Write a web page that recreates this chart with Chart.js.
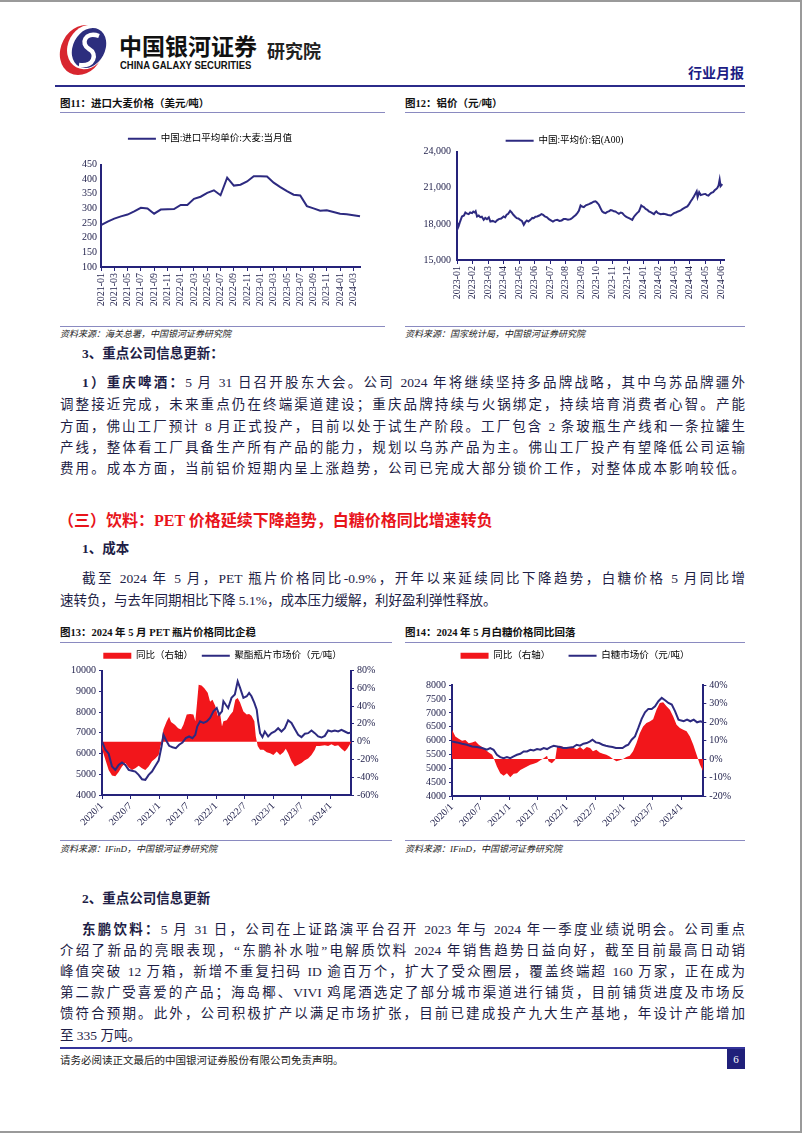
<!DOCTYPE html>
<html>
<head>
<meta charset="utf-8">
<script src="https://cdn.jsdelivr.net/npm/chart.js@4.4.1/dist/chart.umd.min.js"></script>
<style>
  html, body { margin: 0; padding: 0; background: #fff; }
  #page { position: relative; width: 802px; height: 1133px; overflow: hidden; background: #fff;
    font-family: "Liberation Serif", "Noto Sans CJK SC", serif; color: #1e1e46; }
  .t { position: absolute; white-space: nowrap; line-height: 20px; }
  .jl { position: absolute; line-height: 20px; font-size: 13.5px; text-align: justify; text-align-last: justify; }
  .b { font-weight: bold; }
  .cap { position: absolute; font-size: 10.5px; font-weight: bold; line-height: 16px; white-space: nowrap; color: #111; }
  .src { position: absolute; font-size: 9px; font-style: italic; line-height: 14px; white-space: nowrap; color: #222; }
  .rule { position: absolute; height: 1px; background: #8a8ac0; }
  canvas { position: absolute; }
</style>
</head>
<body>
<div id="page">
  <!-- page frame -->
  <div style="position:absolute;left:0;top:0;width:802px;height:2px;background:#9a9a9a"></div>
  <div style="position:absolute;left:800px;top:0;width:2px;height:1133px;background:#9a9a9a"></div>
  <div style="position:absolute;left:0;top:1131px;width:802px;height:2px;background:#9a9a9a"></div>

  <!-- header -->
  <svg style="position:absolute;left:52px;top:24px" width="64" height="52" viewBox="0 0 64 52">
    <ellipse cx="30" cy="26" rx="21" ry="26" transform="rotate(28 30 26)" fill="#d8262f"/>
    <ellipse cx="35" cy="23" rx="19" ry="23" transform="rotate(28 35 23)" fill="#fff"/>
    <ellipse cx="37" cy="24" rx="16" ry="21" transform="rotate(28 37 24)" fill="#2c2e7e"/>
    <path d="M47 12 C33 7, 28 20, 37 25 C46 30, 42 43, 27 41" stroke="#fff" stroke-width="4.5" fill="none"/>
  </svg>
  <div class="t b" style="left:119px;top:32px;font-size:23px;line-height:26px;font-family:'Noto Sans CJK SC';color:#111">中国银河证券</div>
  <div class="t b" style="left:120px;top:60px;font-size:10px;line-height:12px;font-family:'Liberation Sans';color:#111;transform:scaleX(0.95);transform-origin:left">CHINA GALAXY SECURITIES</div>
  <div class="t" style="left:267px;top:39px;font-size:18px;line-height:22px;font-family:'Noto Sans CJK SC';font-weight:bold;color:#222">研究院</div>
  <div class="t b" style="left:688px;top:62px;font-size:14px;font-family:'Noto Sans CJK SC';color:#1c1c84">行业月报</div>
  <div style="position:absolute;left:55px;top:85px;width:690px;height:2px;background:#2b2b8a"></div>

  <!-- figures 11 / 12 -->
  <div class="cap" style="left:60px;top:96px">图11：进口大麦价格（美元/吨）</div>
  <div class="rule" style="left:60px;top:112px;width:325px"></div>
  <div class="cap" style="left:405px;top:96px">图12：铝价（元/吨）</div>
  <div class="rule" style="left:405px;top:112px;width:340px"></div>
  <canvas id="c11" width="325" height="200" style="left:60px;top:118px"></canvas>
  <canvas id="c12" width="340" height="200" style="left:405px;top:118px"></canvas>
  <div class="rule" style="left:60px;top:326px;width:325px"></div>
  <div class="src" style="left:60px;top:327px">资料来源：海关总署，中国银河证券研究院</div>
  <div class="rule" style="left:405px;top:326px;width:340px"></div>
  <div class="src" style="left:405px;top:327px">资料来源：国家统计局，中国银河证券研究院</div>

  <!-- section 3 -->
  <div class="t b" style="left:82px;top:344px;font-size:13.5px">3、重点公司信息更新：</div>
  <div class="jl" style="left:82px;top:373px;width:663px"><span class="b">1）重庆啤酒：</span>5 月 31 日召开股东大会。公司 2024 年将继续坚持多品牌战略，其中乌苏品牌疆外</div>
  <div class="jl" style="left:60px;top:395px;width:685px">调整接近完成，未来重点仍在终端渠道建设；重庆品牌持续与火锅绑定，持续培育消费者心智。产能</div>
  <div class="jl" style="left:60px;top:417px;width:685px">方面，佛山工厂预计 8 月正式投产，目前以处于试生产阶段。工厂包含 2 条玻瓶生产线和一条拉罐生</div>
  <div class="jl" style="left:60px;top:438px;width:685px">产线，整体看工厂具备生产所有产品的能力，规划以乌苏产品为主。佛山工厂投产有望降低公司运输</div>
  <div class="jl" style="left:60px;top:459px;width:685px">费用。成本方面，当前铝价短期内呈上涨趋势，公司已完成大部分锁价工作，对整体成本影响较低。</div>

  <!-- section (三) -->
  <div class="t b" style="left:58px;top:510px;font-size:16px;line-height:22px;color:#e8141b">（三）饮料：PET 价格延续下降趋势，白糖价格同比增速转负</div>
  <div class="t b" style="left:82px;top:539px;font-size:13.5px">1、成本</div>
  <div class="jl" style="left:82px;top:569px;width:663px">截至 2024 年 5 月，PET 瓶片价格同比-0.9%，开年以来延续同比下降趋势，白糖价格 5 月同比增</div>
  <div class="t" style="left:60px;top:591px;font-size:13.5px">速转负，与去年同期相比下降 5.1%，成本压力缓解，利好盈利弹性释放。</div>

  <!-- figures 13 / 14 -->
  <div class="cap" style="left:60px;top:625px">图13：2024 年 5 月 PET 瓶片价格同比企稳</div>
  <div class="rule" style="left:60px;top:642px;width:332px"></div>
  <div class="cap" style="left:405px;top:625px">图14：2024 年 5 月白糖价格同比回落</div>
  <div class="rule" style="left:405px;top:642px;width:340px"></div>
  <canvas id="c13" width="325" height="190" style="left:60px;top:645px"></canvas>
  <canvas id="c14" width="340" height="190" style="left:405px;top:645px"></canvas>
  <div class="rule" style="left:60px;top:840px;width:332px"></div>
  <div class="src" style="left:60px;top:842px">资料来源：IFinD，中国银河证券研究院</div>
  <div class="rule" style="left:405px;top:840px;width:340px"></div>
  <div class="src" style="left:405px;top:842px">资料来源：IFinD，中国银河证券研究院</div>

  <!-- section 2 -->
  <div class="t b" style="left:82px;top:889px;font-size:13.5px">2、重点公司信息更新</div>
  <div class="jl" style="left:82px;top:920px;width:663px"><span class="b">东鹏饮料：</span>5 月 31 日，公司在上证路演平台召开 2023 年与 2024 年一季度业绩说明会。公司重点</div>
  <div class="jl" style="left:60px;top:941px;width:685px">介绍了新品的亮眼表现，“东鹏补水啦”电解质饮料 2024 年销售趋势日益向好，截至目前最高日动销</div>
  <div class="jl" style="left:60px;top:962px;width:685px">峰值突破 12 万箱，新增不重复扫码 ID 逾百万个，扩大了受众圈层，覆盖终端超 160 万家，正在成为</div>
  <div class="jl" style="left:60px;top:983px;width:685px">第二款广受喜爱的产品；海岛椰、VIVI 鸡尾酒选定了部分城市渠道进行铺货，目前铺货进度及市场反</div>
  <div class="jl" style="left:60px;top:1004px;width:685px">馈符合预期。此外，公司积极扩产以满足市场扩张，目前已建成投产九大生产基地，年设计产能增加</div>
  <div class="t" style="left:60px;top:1026px;font-size:13.5px">至 335 万吨。</div>

  <!-- footer -->
  <div style="position:absolute;left:60px;top:1047px;width:685px;height:2px;background:#34349a"></div>
  <div class="t" style="left:60px;top:1051px;font-size:10.5px;color:#222">请务必阅读正文最后的中国银河证券股份有限公司免责声明。</div>
  <div style="position:absolute;left:727px;top:1049px;width:18px;height:20px;background:#20207a;color:#fff;font-size:11px;line-height:20px;text-align:center">6</div>
</div>

<script>
// 图11 进口大麦价格（美元/吨），月度
const barleyMonths = ['2021-01','2021-02','2021-03','2021-04','2021-05','2021-06','2021-07','2021-08','2021-09','2021-10','2021-11','2021-12',
  '2022-01','2022-02','2022-03','2022-04','2022-05','2022-06','2022-07','2022-08','2022-09','2022-10','2022-11','2022-12',
  '2023-01','2023-02','2023-03','2023-04','2023-05','2023-06','2023-07','2023-08','2023-09','2023-10','2023-11','2023-12',
  '2024-01','2024-02','2024-03','2024-04'];
const barleyPrice = [243, 255, 265, 273, 279, 290, 302, 300, 282, 296, 297, 298,
  312, 312, 333, 340, 353, 362, 345, 405, 378, 381, 392, 410,
  410, 409, 388, 373, 359, 347, 344, 308, 300, 292, 294, 288,
  282, 280, 277, 273];

// 图12 铝价（元/吨），横轴为距 2023-01 的月数
const alMonthLabels = ['2023-01','2023-02','2023-03','2023-04','2023-05','2023-06','2023-07','2023-08','2023-09',
  '2023-10','2023-11','2023-12','2024-01','2024-02','2024-03','2024-04','2024-05','2024-06'];
const alT = [0, 0.05, 0.1, 0.2, 0.32, 0.45, 0.54, 0.65, 0.75, 0.85, 0.97, 1.05, 1.14, 1.2, 1.29, 1.4, 1.5, 1.6, 1.72, 1.82,
  1.93, 2.05, 2.15, 2.3, 2.47, 2.58, 2.69, 2.85, 3.0, 3.1, 3.2, 3.3, 3.42, 3.52, 3.63, 3.75, 3.85, 3.95, 4.07, 4.18,
  4.3, 4.4, 4.5, 4.6, 4.73, 4.85, 4.94, 5.05, 5.16, 5.3, 5.44, 5.55, 5.66, 5.8, 5.92, 6.05, 6.18, 6.3, 6.46, 6.6,
  6.74, 6.87, 7.0, 7.15, 7.32, 7.42, 7.53, 7.65, 7.75, 7.85, 7.96, 8.05, 8.17, 8.3, 8.5, 8.65, 8.8, 8.92, 9.0, 9.14,
  9.25, 9.35, 9.45, 9.57, 9.68, 9.78, 9.9, 10.0, 10.1, 10.2, 10.3, 10.43, 10.55, 10.65, 10.75, 10.86, 10.97, 11.08, 11.2, 11.29,
  11.4, 11.5, 11.6, 11.72, 11.8, 11.87, 11.95, 12.04, 12.15, 12.26, 12.36, 12.47, 12.58, 12.69, 12.77, 12.84, 12.95, 13.12, 13.3, 13.45,
  13.6, 13.77, 13.88, 13.98, 14.1, 14.24, 14.38, 14.52, 14.68, 14.84, 14.95, 15.05, 15.15, 15.26, 15.35, 15.44, 15.5, 15.6, 15.7, 15.8,
  15.9, 16.0, 16.1, 16.2, 16.3, 16.38, 16.5, 16.6, 16.7, 16.77, 16.85, 16.92, 16.98, 17.05, 17.1];
const alPrice = [18100, 17650, 17800, 18200, 18620, 18700, 18950, 18850, 18810, 18950, 18900, 19030, 18950, 19050, 18620, 18700, 18560, 18600, 18340, 18500,
  18400, 18550, 18200, 18250, 18150, 18300, 18400, 18450, 18620, 18550, 18760, 18850, 19090, 18950, 18760, 18600, 18480, 18450, 18340, 18250,
  17930, 18150, 18290, 18200, 18340, 18500, 18480, 18600, 18620, 18700, 18810, 18750, 18620, 18550, 18400, 18300, 18200, 18300, 18340, 18250,
  18290, 18400, 18400, 18350, 18400, 18500, 18620, 18750, 18900, 19100, 19540, 19450, 19400, 19550, 19650, 19740, 19850, 19880, 19800, 19600,
  19300, 19040, 18950, 18900, 19000, 19040, 19150, 19120, 19050, 19040, 18950, 18840, 18950, 18900, 18750, 18620, 18550, 18480, 18400, 18340,
  18600, 18760, 18900, 19040, 19300, 19540, 19450, 19400, 19250, 19180, 19050, 18980, 18900, 18810, 18950, 19040, 18900, 18810, 18850, 18810,
  18750, 18700, 18800, 18900, 18950, 19040, 19100, 19230, 19350, 19460, 19650, 19870, 20050, 20290, 20500, 20710, 20240, 20630, 20400, 20440,
  20480, 20490, 20400, 20350, 20500, 20580, 20650, 20800, 20900, 21000, 21200, 21680, 21140, 21250, 21200];

// 图13 / 图14 横轴：距 2020-01 的月数，每 6 个月一个刻度
const halfYearLabels = ['2020/1', '2020/7', '2021/1', '2021/7', '2022/1', '2022/7', '2023/1', '2023/7', '2024/1'];

// 图13 PET：聚酯瓶片市场价（元/吨）与同比（%）
const petT = [0, 0.7, 1.4, 2.1, 2.8, 3.5, 4.2, 4.9, 5.6, 6.3, 7.0, 7.7, 8.4, 9.1, 9.8, 10.5, 11.2, 11.9, 12.5, 12.9,
  13.4, 14.1, 14.8, 15.5, 16.2, 16.9, 17.6, 18.3, 19.0, 19.6, 20.0, 20.6, 21.3, 22.0, 22.7, 23.4, 24.1, 24.6, 25.2, 25.5,
  26.0, 26.5, 27.2, 27.9, 28.5, 29.0, 29.7, 30.4, 30.9, 31.4, 32.0, 32.5, 32.8, 33.2, 33.7, 34.2, 34.9, 35.6, 36.3, 37.0,
  37.7, 38.4, 39.1, 39.8, 40.5, 41.2, 41.9, 42.6, 43.3, 44.0, 44.7, 45.4, 46.1, 46.8, 47.5, 48.2, 48.9, 49.6, 50.3, 51.0,
  51.7, 52.3];
const petPrice = [6580, 6180, 5990, 5370, 5210, 5450, 5570, 5450, 5210, 5170, 5130, 4970, 4760, 4730, 4970, 5130, 5400, 5660, 6340, 6900,
  6660, 6370, 6300, 6260, 6420, 6530, 6740, 6820, 6740, 6900, 7300, 7550, 7470, 7550, 7710, 8030, 8190, 7870, 8030, 8520,
  8350, 8190, 8680, 8840, 9480, 9160, 8680, 8760, 8920, 8760, 8440, 8110, 7550, 6980, 6790, 7060, 6820, 6980, 7060, 7220,
  7060, 7220, 7600, 7470, 7180, 6900, 6790, 6950, 6980, 7110, 6980, 6820, 6770, 6850, 7110, 7060, 7110, 7060, 7140, 7060,
  6980, 7010];
const petYoyT = [0, 0.7, 1.4, 2.1, 2.8, 3.5, 4.2, 4.9, 5.6, 6.3, 7.0, 7.7, 8.4, 9.1, 9.8, 10.5, 11.2, 11.9, 12.3, 12.5,
  12.9, 13.6, 14.1, 14.5, 15.3, 16.0, 16.6, 17.1, 17.8, 18.5, 19.2, 19.6, 19.9, 20.3, 20.9, 21.5, 22.2, 22.7, 23.2, 23.8,
  24.3, 24.8, 25.2, 25.5, 26.2, 26.9, 27.5, 28.0, 28.5, 29.0, 29.7, 30.4, 30.9, 31.4, 32.0, 32.3, 32.7, 33.2, 33.9, 34.6,
  35.3, 36.0, 36.7, 37.4, 38.1, 38.6, 39.1, 39.8, 40.5, 41.2, 41.9, 42.6, 43.3, 44.0, 44.7, 45.0, 45.7, 46.8, 47.5, 48.2,
  48.9, 49.6, 50.3, 51.0, 51.5, 52.3];
const petYoy = [-8, -20, -32, -38, -39, -34, -28, -24, -29, -32, -30, -27, -30, -32, -28, -22, -19, -15, -5, 0,
  13.6, 23, 28, 22, 19, 15, 13.6, 19, 30.5, 31, 30.5, 23, 40, 64, 63, 60, 55, 45, 47, 40,
  29, 32, 17, 23, 24, 30, 34, 47, 49, 44, 34, 30.5, 31, 29, 23, 6, -5, -9, -9, -12,
  -13, -15, -11, -15, -12, -8, -13, -22, -28, -26, -24, -21, -19, -15, -9, -5, -5, -4, -5, -3,
  -5, -4, -8, -11, -8, -1];

// 图14 白糖：市场价（元/吨）与同比（%）
const sugarT = [0, 1.0, 2.1, 3.1, 4.2, 5.2, 6.3, 7.3, 8.0, 8.7, 9.4, 10.1, 10.8, 11.5, 12.2, 12.9, 13.6, 14.3, 15.0, 15.7,
  16.4, 17.1, 17.8, 18.5, 19.2, 19.9, 20.6, 21.3, 22.0, 22.6, 23.3, 24.0, 24.7, 25.4, 26.1, 26.8, 27.5, 28.2, 28.9, 29.4,
  30.1, 30.8, 31.5, 32.2, 32.9, 33.6, 34.3, 35.0, 35.7, 36.4, 36.9, 37.6, 38.3, 39.0, 39.7, 40.4, 41.1, 41.8, 42.5, 43.2,
  43.9, 44.6, 45.3, 46.0, 46.7, 47.4, 47.8, 48.5, 49.2, 49.9, 50.6, 51.3, 52.0, 52.6];
const sugarPrice = [5971, 5935, 5888, 5851, 5790, 5766, 5731, 5670, 5731, 5670, 5489, 5404, 5368, 5404, 5368, 5428, 5489, 5525, 5610, 5610,
  5670, 5646, 5694, 5670, 5731, 5694, 5766, 5815, 5790, 5766, 5731, 5731, 5755, 5766, 5851, 5815, 5888, 5912, 5971, 6032,
  5935, 5912, 5851, 5815, 5790, 5766, 5731, 5731, 5731, 5815, 5851, 6032, 6153, 6456, 6783, 7022, 7144, 7144, 7240, 7421,
  7542, 7457, 7360, 7300, 7058, 6758, 6735, 6698, 6758, 6698, 6758, 6661, 6698, 6661];
const sugarYoyT = [0, 0.7, 1.4, 2.1, 2.8, 3.5, 4.2, 4.9, 5.6, 6.3, 7.0, 7.7, 8.4, 8.8, 9.4, 10.1, 10.8, 11.5, 12.2, 12.9,
  13.6, 14.3, 15.0, 15.7, 16.4, 17.1, 17.8, 18.5, 19.2, 19.9, 20.2, 20.9, 21.6, 22.0, 22.6, 23.3, 24.0, 24.7, 25.4, 26.1,
  26.8, 27.5, 28.2, 28.9, 29.5, 30.2, 30.9, 31.6, 32.3, 33.0, 33.7, 34.4, 35.1, 35.8, 36.5, 37.2, 37.9, 38.6, 39.3, 40.0,
  40.7, 41.4, 42.1, 42.8, 43.5, 44.2, 44.9, 45.6, 46.3, 47.0, 47.7, 48.4, 49.1, 49.8, 50.5, 51.2, 51.9, 52.6];
const sugarYoy = [15.9, 12.2, 11, 9.9, 10.3, 8.6, 9, 9.6, 7.8, 6.5, 5, 3.6, 2.3, 0, -4, -7.7, -9, -7.7, -9.9, -8,
  -7.7, -5.9, -5, -4, -3.1, -2.5, -1.8, -0.7, 0.5, 1.8, -1.2, -2.2, -0.4, 6.8, 7.2, 6.5, 6, 6.5, 6, 5.3,
  6.5, 5, 6.5, 6, 4.2, 5, 3.6, 2.9, 2.3, 1.4, 0, -1.2, -0.7, 0, 1.1, 1.8, 4.2, 8.6, 14, 17.7,
  19.5, 20.4, 21.6, 26.7, 30.4, 30.8, 28.6, 26.7, 23.1, 18.6, 16.8, 15.9, 15, 12.2, 7.8, 2.3, -3.1, -6.7];

const NAVY = '#2d2a80';
const AXIS = '#25237a';
const TICK = '#24244e';
const RED = '#f2161b';

Chart.defaults.font.family = "'Liberation Serif', 'Noto Sans CJK SC', serif";
Chart.defaults.font.size = 10;
Chart.defaults.color = TICK;

const pairs = (xs, ys) => xs.map((x, i) => ({ x: x, y: ys[i] }));

// 图例下方留白（可为负）
function legendGap(px) {
  return {
    id: 'legendGap',
    beforeInit(chart) {
      const fit = chart.legend.fit;
      chart.legend.fit = function () { fit.call(this); this.height += px; };
    }
  };
}

function legendOpts(padding, items) {
  return {
    display: true,
    labels: {
      usePointStyle: true,
      pointStyleWidth: 28,
      boxHeight: 6,
      padding: padding,
      color: '#333',
      font: { size: 9.5 },
      generateLabels: () => items.map(it => ({
        text: it.text, fillStyle: it.color, strokeStyle: it.color,
        lineWidth: it.line ? 2 : 0, pointStyle: it.line ? 'line' : 'rect', hidden: false
      }))
    }
  };
}

function axisBorder() { return { color: AXIS, width: 2 }; }

// 图11
new Chart(document.getElementById('c11'), {
  type: 'line',
  data: {
    labels: barleyMonths,
    datasets: [{ label: '中国:进口平均单价:大麦:当月值', data: barleyPrice, borderColor: NAVY, borderWidth: 2, pointRadius: 0, tension: 0 }]
  },
  options: {
    responsive: false, animation: false,
    layout: { padding: { top: 6, right: 25, left: 0, bottom: 0 } },
    plugins: { legend: legendOpts(10, [{ text: '中国:进口平均单价:大麦:当月值', color: NAVY, line: true }]), tooltip: { enabled: false } },
    scales: {
      x: {
        border: axisBorder(),
        grid: { drawOnChartArea: false, tickLength: 4, color: c => (c.index % 2 ? 'rgba(0,0,0,0)' : AXIS) },
        ticks: { autoSkip: false, minRotation: 90, maxRotation: 90, padding: 2, callback: (v, i) => (i % 2 ? '' : barleyMonths[i]) },
        afterFit: s => { s.height = 51; }
      },
      y: {
        min: 100, max: 450,
        border: axisBorder(),
        grid: { display: false, drawTicks: false },
        ticks: { stepSize: 50, autoSkip: false, padding: 4 },
        afterFit: s => { s.width = 41; }
      }
    }
  },
  plugins: [legendGap(11)]
});

// 图12
new Chart(document.getElementById('c12'), {
  type: 'line',
  data: {
    datasets: [{ label: '中国:平均价:铝(A00)', data: pairs(alT, alPrice), borderColor: NAVY, borderWidth: 2, pointRadius: 0, tension: 0 }]
  },
  options: {
    responsive: false, animation: false,
    layout: { padding: { top: 8, right: 21, left: 0, bottom: 0 } },
    plugins: { legend: legendOpts(10, [{ text: '中国:平均价:铝(A00)', color: NAVY, line: true }]), tooltip: { enabled: false } },
    scales: {
      x: {
        type: 'linear', min: 0, max: 17.2,
        border: axisBorder(),
        grid: { drawOnChartArea: false, tickLength: 4, color: AXIS },
        ticks: { stepSize: 1, includeBounds: false, autoSkip: false, maxTicksLimit: 100, minRotation: 90, maxRotation: 90, padding: 2,
          callback: v => alMonthLabels[v] || '' },
        afterFit: s => { s.height = 58; }
      },
      y: {
        min: 15000, max: 24000,
        border: axisBorder(),
        grid: { display: false, drawTicks: false },
        ticks: { stepSize: 3000, autoSkip: false, padding: 6, callback: v => v.toLocaleString('en-US') },
        afterFit: s => { s.width = 52; }
      }
    }
  },
  plugins: [legendGap(-3.7)]
});

function dualChart(id, o) {
  new Chart(document.getElementById(id), {
    type: 'line',
    data: {
      datasets: [
        { label: o.lineName, data: pairs(o.priceT, o.price), borderColor: NAVY, borderWidth: 2, pointRadius: 0, tension: 0, yAxisID: 'y' },
        { label: '同比（右轴）', data: pairs(o.yoyT, o.yoy), borderWidth: 0, backgroundColor: RED, fill: 'origin', pointRadius: 0, tension: 0, yAxisID: 'y1' }
      ]
    },
    options: {
      responsive: false, animation: false,
      layout: { padding: { top: 2, right: 0, left: 0, bottom: 0 } },
      plugins: {
        legend: legendOpts(4, [{ text: '同比（右轴）' + o.legendSpace, color: RED, line: false }, { text: o.lineName, color: NAVY, line: true }]),
        tooltip: { enabled: false }
      },
      scales: {
        x: {
          type: 'linear', min: 0, max: o.xMax,
          border: axisBorder(),
          grid: { drawOnChartArea: false, tickLength: 4, color: AXIS },
          ticks: { stepSize: 6, includeBounds: false, autoSkip: false, maxTicksLimit: 100, minRotation: 45, maxRotation: 45, padding: 1,
            callback: v => halfYearLabels[v / 6] || '' },
          afterFit: s => { s.height = o.xH; }
        },
        y: {
          position: 'left', min: o.yMin, max: o.yMax,
          border: axisBorder(),
          grid: { drawOnChartArea: false, tickLength: 3, color: AXIS },
          ticks: { stepSize: o.yStep, autoSkip: false, padding: 3, callback: v => String(v) },
          afterFit: s => { s.width = o.yW; }
        },
        y1: {
          position: 'right', min: o.rMin, max: o.rMax,
          border: axisBorder(),
          grid: { drawOnChartArea: false, tickLength: 3, color: AXIS },
          ticks: { stepSize: o.rStep, autoSkip: false, padding: 3, callback: v => v + '%' },
          afterFit: s => { s.width = o.rW; }
        }
      }
    },
    plugins: [legendGap(o.gap)]
  });
}

// 图13
dualChart('c13', {
  lineName: '聚酯瓶片市场价（元/吨）', legendSpace: '\u3000', priceT: petT, price: petPrice, yoyT: petYoyT, yoy: petYoy,
  xMax: 52.3, xH: 40, yMin: 4000, yMax: 10000, yStep: 1000, yW: 42, rMin: -60, rMax: 80, rStep: 20, rW: 34, gap: 0
});

// 图14
dualChart('c14', {
  lineName: '白糖市场价（元/吨）', legendSpace: '\u3000\u3000', priceT: sugarT, price: sugarPrice, yoyT: sugarYoyT, yoy: sugarYoy,
  xMax: 52.6, xH: 39, yMin: 4000, yMax: 8000, yStep: 500, yW: 47, rMin: -20, rMax: 40, rStep: 10, rW: 41.7, gap: 14.7
});
</script>
</body>
</html>
